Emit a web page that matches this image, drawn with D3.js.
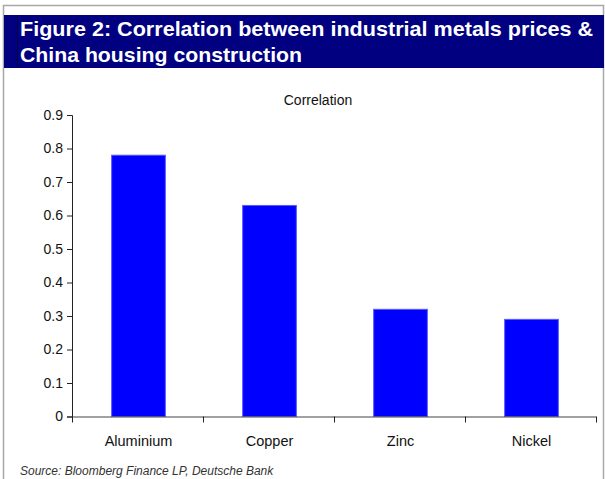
<!DOCTYPE html>
<html>
<head>
<meta charset="utf-8">
<script src="https://cdn.jsdelivr.net/npm/d3@7"></script>
<style>
  html, body { margin: 0; padding: 0; background: #fff; }
  svg { display: block; font-family: "Liberation Sans", Arial, sans-serif; }
</style>
</head>
<body>
<svg id="chart" width="605" height="479"></svg>
<script>
// Correlation of metal prices with China housing construction
const metals = ["Aluminium", "Copper", "Zinc", "Nickel"];
const correlation = [0.78, 0.63, 0.32, 0.29];
const yTicks = [0, 0.1, 0.2, 0.3, 0.4, 0.5, 0.6, 0.7, 0.8, 0.9];
const titleLines = [
  "Figure 2: Correlation between industrial metals prices &",
  "China housing construction"
];
const seriesName = "Correlation";
const sourceNote = "Source: Bloomberg Finance LP, Deutsche Bank";

const svg = d3.select("#chart");

// outer frame
svg.append("rect")
  .attr("x", 3.5).attr("y", 5.5).attr("width", 600).attr("height", 480)
  .attr("fill", "none").attr("stroke", "#a8a8a8").attr("stroke-width", 1.5);

// title band
svg.append("rect")
  .attr("x", 4).attr("y", 15).attr("width", 600).attr("height", 53)
  .attr("fill", "#000080");
svg.append("line")
  .attr("x1", 17.5).attr("x2", 17.5).attr("y1", 15).attr("y2", 68)
  .attr("stroke", "#00004a").attr("stroke-width", 1);

svg.selectAll("text.title")
  .data(titleLines)
  .join("text")
  .attr("class", "title")
  .attr("x", 20)
  .attr("y", (d, i) => 36 + i * 26)
  .attr("fill", "#fff")
  .attr("font-weight", "bold")
  .attr("font-size", 20.5)
  .attr("textLength", (d, i) => i === 0 ? 573 : 282)
  .attr("lengthAdjust", "spacingAndGlyphs")
  .text(d => d);

// plot area
const m = { left: 72, right: 596, top: 115, bottom: 416.5 };

const x = d3.scaleBand()
  .domain(metals)
  .range([m.left, m.right])
  .paddingInner(0.59)
  .paddingOuter(0.295);

const y = d3.scaleLinear()
  .domain([0, 0.9])
  .range([m.bottom, m.top]);

// series label
svg.append("text")
  .attr("x", 318).attr("y", 105)
  .attr("text-anchor", "middle")
  .attr("font-size", 14)
  .attr("fill", "#111")
  .text(seriesName);

// bars
svg.selectAll("rect.bar")
  .data(metals)
  .join("rect")
  .attr("class", "bar")
  .attr("x", d => x(d) + 1)
  .attr("width", x.bandwidth())
  .attr("y", (d, i) => y(correlation[i]))
  .attr("height", (d, i) => y(0) - y(correlation[i]))
  .attr("fill", "#0000ff")
  .attr("stroke", "#5a5aff")
  .attr("stroke-width", 1);

// y axis
const yAxis = svg.append("g")
  .attr("transform", `translate(${m.left},0)`)
  .call(d3.axisLeft(y).tickValues(yTicks).tickSize(5).tickPadding(4)
    .tickFormat(d => d === 0 ? "0" : d3.format(".1f")(d)));
yAxis.select(".domain").attr("stroke", "#222");
yAxis.selectAll(".tick line").attr("stroke", "#222");
yAxis.selectAll(".tick text")
  .attr("font-size", 14).attr("fill", "#111")
  .attr("font-family", "'Liberation Sans', Arial, sans-serif");

// x axis: ticks at band boundaries
const step = x.step();
const bounds = d3.range(metals.length + 1).map(i => m.left + i * step);
const xg = svg.append("g");
xg.append("line")
  .attr("x1", m.left).attr("x2", m.right)
  .attr("y1", m.bottom + 0.5).attr("y2", m.bottom + 0.5)
  .attr("stroke", "#444").attr("stroke-width", 1.2);
xg.selectAll("line.xt")
  .data(bounds)
  .join("line")
  .attr("class", "xt")
  .attr("x1", d => Math.round(d) + 0.5).attr("x2", d => Math.round(d) + 0.5)
  .attr("y1", m.bottom).attr("y2", m.bottom + 6)
  .attr("stroke", "#222");
xg.selectAll("text")
  .data(metals)
  .join("text")
  .attr("x", d => x(d) + x.bandwidth() / 2 + 1)
  .attr("y", 446)
  .attr("text-anchor", "middle")
  .attr("font-size", 14.5)
  .attr("fill", "#111")
  .text(d => d);

// source note
svg.append("text")
  .attr("x", 20).attr("y", 475)
  .attr("font-size", 12)
  .attr("font-style", "italic")
  .attr("fill", "#333")
  .text(sourceNote);
</script>
</body>
</html>
